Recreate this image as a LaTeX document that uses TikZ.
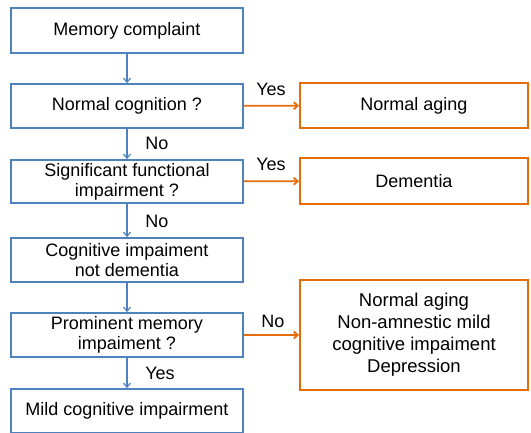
\documentclass[tikz,border=0pt]{standalone}
\usepackage{fontspec}
\setmainfont{Liberation Sans}
\usetikzlibrary{arrows.meta,positioning}
\definecolor{bbl}{RGB}{79,129,189}
\definecolor{orng}{RGB}{228,108,10}
\tikzset{
  lbox/.style={draw=bbl,line width=1.8pt,minimum width=232pt,align=center,inner sep=0pt,font=\fontsize{18}{20}\selectfont},
  rbox/.style={draw=orng,line width=1.8pt,minimum width=228pt,align=center,inner sep=0pt,font=\fontsize{18}{22}\selectfont},
  barr/.style={draw=bbl,line width=1.2pt,-{Straight Barb[length=4pt,width=7pt]}},
  oarr/.style={draw=orng,line width=1.8pt,-{Straight Barb[length=4pt,width=7pt]}},
  lab/.style={font=\fontsize{18}{20}\selectfont,inner sep=0pt}
}
\begin{document}
\begin{tikzpicture}[x=1pt,y=-1pt]
\useasboundingbox (0,0) rectangle (531,433);
\node[lbox,minimum height=45pt] (b1) at (127,30.5) {Memory complaint};
\node[lbox,minimum height=44pt] (b2) at (127,106) {Normal cognition ?};
\node[lbox,minimum height=43pt] (b3) at (127,181.5) {Significant functional\\impairment ?};
\node[lbox,minimum height=44pt] (b4) at (127,260) {Cognitive impaiment\\not dementia};
\node[lbox,minimum height=44pt] (b5) at (127,335) {Prominent memory\\impaiment ?};
\node[lbox,minimum height=44pt] (b6) at (127,411) {Mild cognitive impairment};
\node[rbox,minimum height=45pt] (r1) at (414,105.5) {Normal aging};
\node[rbox,minimum height=46pt] (r2) at (414,181) {Dementia};
\node[rbox,minimum height=110pt,font=\fontsize{18.5}{22}\selectfont] (r3) at (414,335) {Normal aging\\Non-amnestic mild\\cognitive impaiment\\Depression};
\draw[barr] (b1) -- (b2);
\draw[barr] (b2) -- (b3);
\draw[barr] (b3) -- (b4);
\draw[barr] (b4) -- (b5);
\draw[barr] (b5) -- (b6);
\draw[oarr] (b2) -- (r1);
\draw[oarr] (b3) -- (r2);
\draw[oarr] (b5) -- (r3);
\node[lab] (y1) at (271,89) {Yes};
\node[lab] (y2) at (271,164) {Yes};
\node[lab] (y3) at (160,373) {Yes};
\node[lab] (n1) at (157,143) {No};
\node[lab] (n2) at (157,221) {No};
\node[lab] (n3) at (273,321) {No};
\end{tikzpicture}
\end{document}
